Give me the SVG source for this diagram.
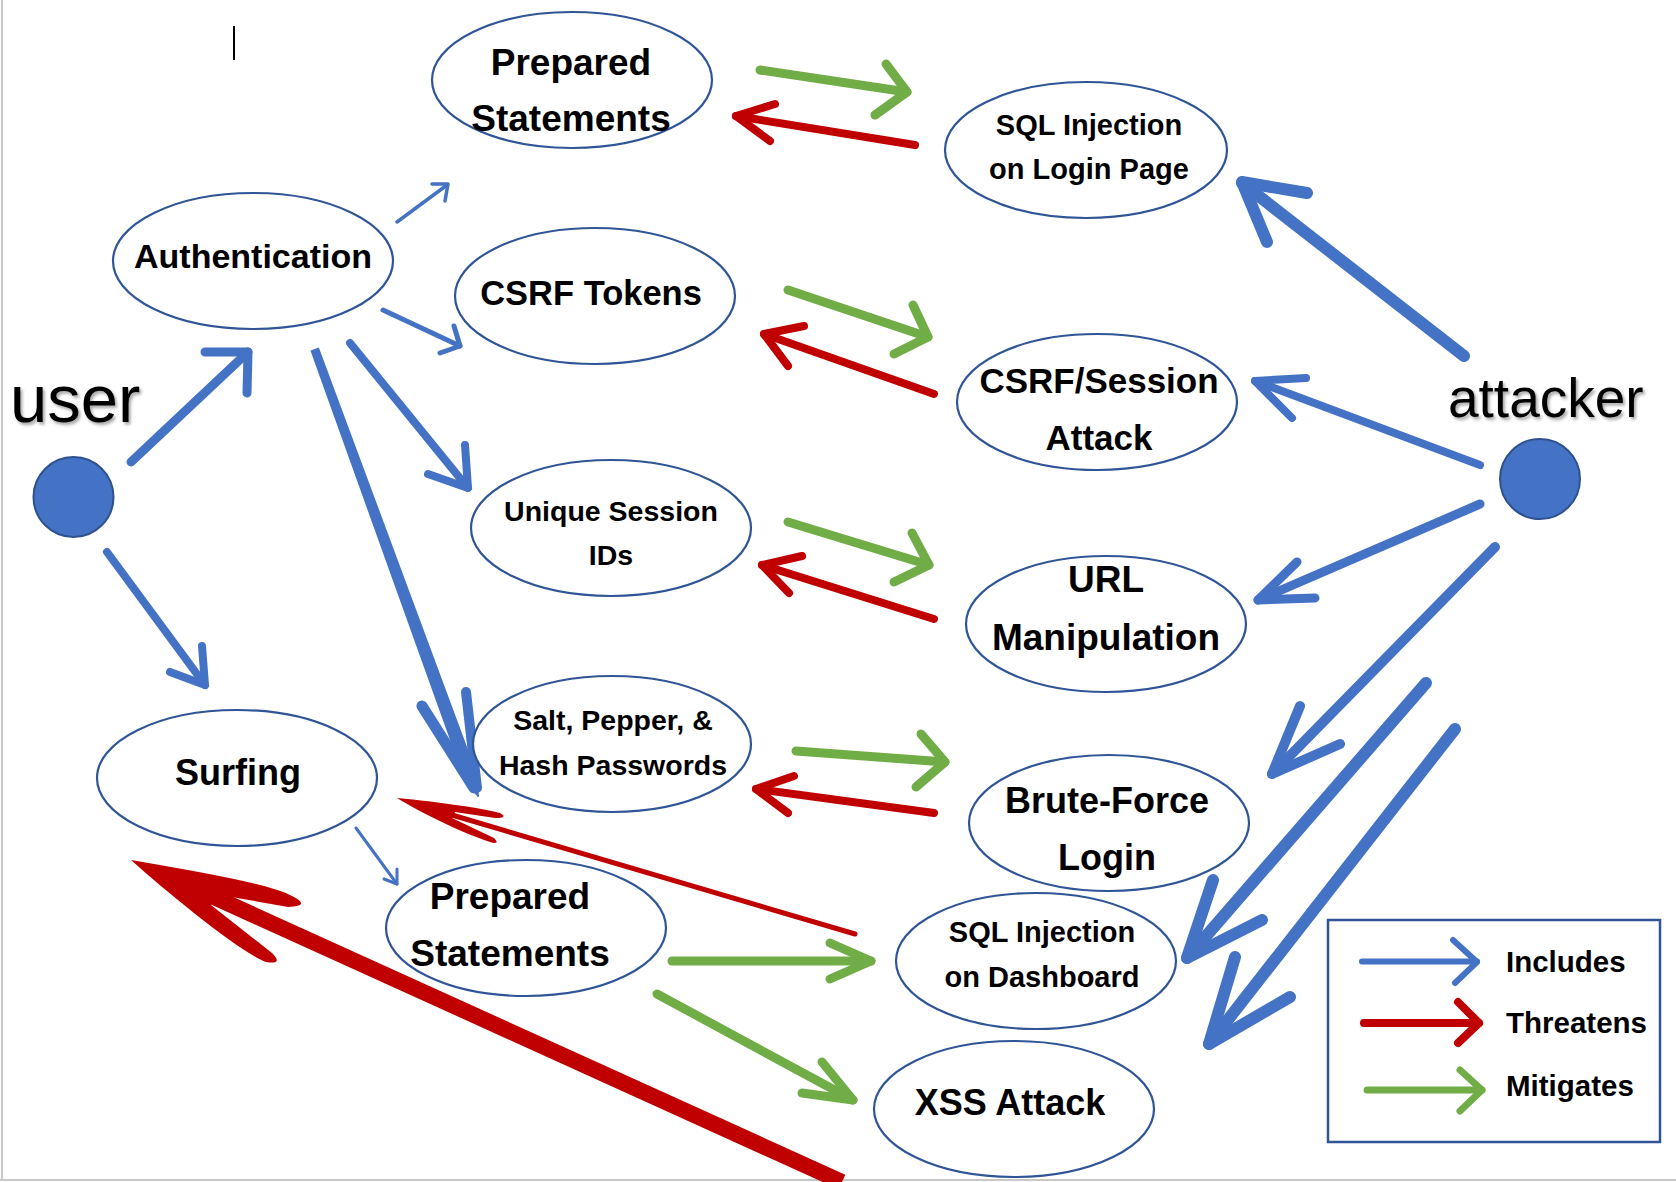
<svg xmlns="http://www.w3.org/2000/svg" width="1676" height="1182" viewBox="0 0 1676 1182">
<defs>
<style>
.node ellipse{fill:#fff;stroke:#2F5597;stroke-width:2.2}
.lbl{font-family:"Liberation Sans",Arial,sans-serif;font-weight:bold;fill:#000;text-anchor:middle}
.actor{font-family:"Liberation Sans",Arial,sans-serif;fill:#000}
.dot{fill:#4472C4;stroke:#2F528F;stroke-width:2}
.b{stroke:#4472C4;fill:none;stroke-linecap:round;stroke-linejoin:round}
.r{stroke:#C00000;fill:none;stroke-linecap:round;stroke-linejoin:round}
.g{stroke:#70AD47;fill:none;stroke-linecap:round;stroke-linejoin:round}
.leg{font-family:"Liberation Sans",Arial,sans-serif;font-weight:bold;font-size:29.5px;fill:#000}
</style>
<filter id="sh" x="-10%" y="-10%" width="130%" height="140%">
<feDropShadow dx="2" dy="2.5" stdDeviation="1.5" flood-color="#000" flood-opacity="0.35"/>
</filter>
</defs>
<rect width="1676" height="1182" fill="#fff"/>
<line x1="2" y1="0" x2="2" y2="1180" stroke="#C8C8C8" stroke-width="2"/>
<line x1="0" y1="1180" x2="1676" y2="1180" stroke="#C8C8C8" stroke-width="2"/>
<line x1="234" y1="26" x2="234" y2="60" stroke="#000" stroke-width="2"/>

<g id="connectors">
<!-- includes (blue) -->
<g class="b">
<line x1="131" y1="462" x2="248" y2="352" stroke-width="9"/>
<polyline points="205,352 248,352 247,393" stroke-width="9"/>
<line x1="107" y1="552" x2="205" y2="685" stroke-width="8"/>
<polyline points="170,672 205,685 202,646" stroke-width="8"/>
<line x1="397" y1="222" x2="447" y2="185" stroke-width="3.5"/>
<polyline points="432,184 448,184 445,201" stroke-width="3.5"/>
<line x1="383" y1="310" x2="460" y2="346" stroke-width="5"/>
<polyline points="440,353 460,346 454,326" stroke-width="5"/>
<line x1="350" y1="343" x2="468" y2="488" stroke-width="8"/>
<polyline points="428,474 468,488 465,445" stroke-width="8"/>
<line x1="1464" y1="356" x2="1242" y2="183" stroke-width="12"/>
<polyline points="1307,193 1242,182 1267,242" stroke-width="12"/>
<line x1="1480" y1="465" x2="1255" y2="381" stroke-width="8"/>
<polyline points="1306,378 1255,381 1292,418" stroke-width="8"/>
<line x1="1480" y1="504" x2="1258" y2="600" stroke-width="9"/>
<polyline points="1297,562 1258,600 1315,598" stroke-width="9"/>
<line x1="1495" y1="547" x2="1272" y2="774" stroke-width="10"/>
<polyline points="1300,706 1272,774 1340,744" stroke-width="10"/>
<line x1="1426" y1="683" x2="1187" y2="958" stroke-width="12"/>
<polyline points="1213,880 1187,958 1262,920" stroke-width="12"/>
<line x1="1455" y1="729" x2="1209" y2="1044" stroke-width="12"/>
<polyline points="1235,957 1209,1044 1290,997" stroke-width="12"/>
<line x1="356" y1="828" x2="397" y2="884" stroke-width="3"/>
<polyline points="384,879 397,884 397,869" stroke-width="3"/>
<line x1="422" y1="706" x2="474" y2="788" stroke-width="11"/>
<line x1="466" y1="692" x2="477" y2="788" stroke-width="10"/>
</g>
<polygon points="318.3,348.8 475.6,772.9 478,796 464.4,777.1 311.7,351.2" fill="#4472C4" stroke="#4472C4" stroke-width="2" stroke-linejoin="round"/>
<!-- mitigates (green) -->
<g class="g" stroke-width="9">
<line x1="760" y1="70" x2="907" y2="92"/>
<polyline points="886,64 907,92 875,115"/>
<line x1="788" y1="290" x2="928" y2="337"/>
<polyline points="913,305 928,337 894,354"/>
<line x1="788" y1="522" x2="929" y2="565"/>
<polyline points="912,533 929,565 894,582"/>
<line x1="796" y1="751" x2="945" y2="762"/>
<polyline points="921,734 945,762 916,787"/>
<line x1="672" y1="961" x2="871" y2="961"/>
<polyline points="830,943 871,961 830,979"/>
<line x1="657" y1="994" x2="853" y2="1100"/>
<polyline points="822,1062 853,1100 802,1093"/>
</g>
<!-- threatens (red) -->
<g class="r" stroke-width="8">
<line x1="915" y1="145" x2="736" y2="116"/>
<polyline points="775,104 736,116 770,141"/>
<line x1="934" y1="394" x2="764" y2="334"/>
<polyline points="804,326 764,334 788,366"/>
<line x1="934" y1="619" x2="762" y2="565"/>
<polyline points="802,556 762,565 789,593"/>
<line x1="934" y1="813" x2="756" y2="789"/>
<polyline points="794,776 756,789 788,813"/>
<line x1="452" y1="815" x2="855" y2="934" stroke-width="5"/>
<line x1="205" y1="893" x2="842" y2="1182" stroke-width="16" stroke-linecap="butt"/>
</g>
<path d="M397,798 C440,802 480,808 500,813 Q509,818 495,818 L455,812 L452,818 L494,838 Q501,845 490,842 C460,832 420,812 397,798 Z" fill="#C00000"/>
<path d="M131,860 C200,872 270,884 292,896 Q312,906 288,907 L220,895 L211,905 L272,953 Q284,965 266,962 C240,952 170,895 131,860 Z" fill="#C00000"/>
</g>

<g id="node-prepared-1" class="node">
<ellipse cx="572" cy="80" rx="140" ry="68"/>
<text class="lbl" x="571" y="75" font-size="37">Prepared</text>
<text class="lbl" x="571" y="131" font-size="37">Statements</text>
</g>
<g id="node-sql-login" class="node">
<ellipse cx="1086" cy="150" rx="141" ry="68"/>
<text class="lbl" x="1089" y="135" font-size="29">SQL Injection</text>
<text class="lbl" x="1089" y="179" font-size="29">on Login Page</text>
</g>
<g id="node-authentication" class="node">
<ellipse cx="253" cy="261" rx="140" ry="68"/>
<text class="lbl" x="253" y="268" font-size="34">Authentication</text>
</g>
<g id="node-csrf-tokens" class="node">
<ellipse cx="595" cy="296" rx="140" ry="68"/>
<text class="lbl" x="591" y="305" font-size="34.5">CSRF Tokens</text>
</g>
<g id="node-csrf-session" class="node">
<ellipse cx="1097" cy="402" rx="140" ry="68"/>
<text class="lbl" x="1099" y="393" font-size="35">CSRF/Session</text>
<text class="lbl" x="1099" y="450" font-size="35">Attack</text>
</g>
<g id="node-unique-session" class="node">
<ellipse cx="611" cy="528" rx="140" ry="68"/>
<text class="lbl" x="611" y="521" font-size="28.5">Unique Session</text>
<text class="lbl" x="611" y="565" font-size="28.5">IDs</text>
</g>
<g id="node-url" class="node">
<ellipse cx="1106" cy="624" rx="140" ry="68"/>
<text class="lbl" x="1106" y="592" font-size="37">URL</text>
<text class="lbl" x="1106" y="650" font-size="37">Manipulation</text>
</g>
<g id="node-surfing" class="node">
<ellipse cx="237" cy="778" rx="140" ry="68"/>
<text class="lbl" x="238" y="785" font-size="36">Surfing</text>
</g>
<g id="node-salt" class="node">
<ellipse cx="612" cy="744" rx="139" ry="68"/>
<text class="lbl" x="613" y="730" font-size="28.5">Salt, Pepper, &amp;</text>
<text class="lbl" x="613" y="775" font-size="28.5">Hash Passwords</text>
</g>
<g id="node-brute" class="node">
<ellipse cx="1109" cy="823" rx="140" ry="68"/>
<text class="lbl" x="1107" y="813" font-size="36">Brute-Force</text>
<text class="lbl" x="1107" y="870" font-size="36">Login</text>
</g>
<g id="node-prepared-2" class="node">
<ellipse cx="526" cy="928" rx="140" ry="68"/>
<text class="lbl" x="510" y="909" font-size="37">Prepared</text>
<text class="lbl" x="510" y="966" font-size="37">Statements</text>
</g>
<g id="node-sql-dashboard" class="node">
<ellipse cx="1036" cy="961" rx="140" ry="68"/>
<text class="lbl" x="1042" y="942" font-size="29">SQL Injection</text>
<text class="lbl" x="1042" y="987" font-size="29">on Dashboard</text>
</g>
<g id="node-xss" class="node">
<ellipse cx="1014" cy="1109" rx="140" ry="68"/>
<text class="lbl" x="1010" y="1115" font-size="36">XSS Attack</text>
</g>

<g id="actor-user">
<text class="actor" x="10" y="422" font-size="67" filter="url(#sh)">user</text>
<circle class="dot" cx="73.5" cy="497" r="40"/>
</g>
<g id="actor-attacker">
<text class="actor" x="1448" y="417" font-size="55" filter="url(#sh)">attacker</text>
<circle class="dot" cx="1540" cy="479" r="40"/>
</g>

<g id="legend">
<rect x="1328" y="920" width="332" height="222" fill="#fff" stroke="#2F5597" stroke-width="2.5"/>
<line class="b" x1="1362" y1="961.5" x2="1477" y2="961.5" stroke-width="6"/>
<polyline class="b" points="1453,940 1477,962 1455,983" stroke-width="6"/>
<line class="r" x1="1364" y1="1023" x2="1479" y2="1023" stroke-width="8"/>
<polyline class="r" points="1458,1002 1479,1023 1458,1043" stroke-width="8"/>
<line class="g" x1="1367" y1="1090" x2="1482" y2="1090" stroke-width="7"/>
<polyline class="g" points="1460,1070 1482,1090 1460,1111" stroke-width="7"/>
<text class="leg" x="1506" y="972">Includes</text>
<text class="leg" x="1506" y="1033">Threatens</text>
<text class="leg" x="1506" y="1096">Mitigates</text>
</g>
</svg>
